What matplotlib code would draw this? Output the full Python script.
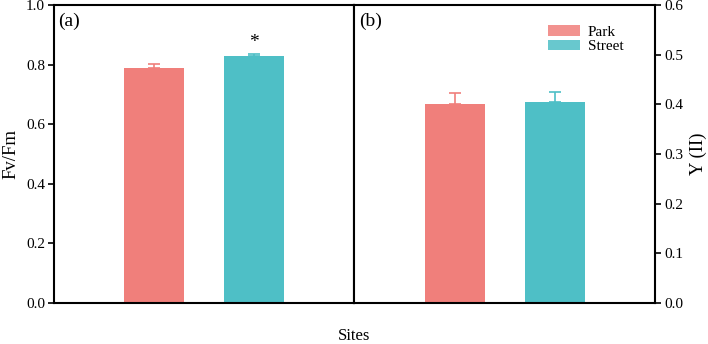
import matplotlib
matplotlib.use("Agg")
import matplotlib.pyplot as plt
from matplotlib.patches import Patch

plt.rcParams['font.family'] = ['Liberation Serif', 'DejaVu Serif']

sites = ["Park", "Street"]
fvfm = [0.789, 0.831]
fvfm_err = [0.012, 0.004]
yii = [0.400, 0.404]
yii_err = [0.023, 0.021]
colors = ["#F07F7B", "#4EBFC6"]

fig = plt.figure(figsize=(7.08, 3.44), dpi=100)
ax1 = fig.add_axes([0.0763, 0.119, 0.4244, 0.866])
ax2 = fig.add_axes([0.5007, 0.119, 0.4244, 0.866])

xs = [0, 1]
for ax, vals, errs in [(ax1, fvfm, fvfm_err), (ax2, yii, yii_err)]:
    for x, v, e, c in zip(xs, vals, errs, colors):
        ax.bar(x, v, width=0.6, color=c, zorder=2)
        ax.errorbar(x, v, yerr=[[0], [e]], fmt='none', ecolor=c,
                    elinewidth=1.2, capsize=4, capthick=1.2, zorder=3)
    ax.set_xlim(-1, 2)
    ax.set_xticks([])
    for s in ax.spines.values():
        s.set_linewidth(1.5)
    ax.tick_params(axis='y', direction='out', length=4.5, width=1.2,
                   pad=2, labelsize=11)

ax1.set_ylim(0, 1.0)
ax1.set_yticks([0.0, 0.2, 0.4, 0.6, 0.8, 1.0])
ax1.set_yticklabels(["0.0", "0.2", "0.4", "0.6", "0.8", "1.0"])
ax1.set_ylabel("Fv/Fm", fontsize=13.5, labelpad=5)
ax1.text(1, fvfm[1] + fvfm_err[1] + 0.012, "*", ha='center', va='bottom', fontsize=14)
ax1.text(0.015, 0.975, "(a)", transform=ax1.transAxes, ha='left', va='top', fontsize=14)

ax2.set_ylim(0, 0.6)
ax2.set_yticks([0.0, 0.1, 0.2, 0.3, 0.4, 0.5, 0.6])
ax2.set_yticklabels(["0.0", "0.1", "0.2", "0.3", "0.4", "0.5", "0.6"])
ax2.yaxis.tick_right()
ax2.yaxis.set_label_position("right")
ax2.set_ylabel("Y (II)", fontsize=13.5, labelpad=5)
ax2.text(0.015, 0.975, "(b)", transform=ax2.transAxes, ha='left', va='top', fontsize=14)

handles = [Patch(facecolor=c, alpha=0.85, label=s) for s, c in zip(sites, colors)]
ax2.legend(handles=handles, loc='upper right', bbox_to_anchor=(0.895, 0.932),
           frameon=False, fontsize=11, handlelength=2.1, handleheight=0.65,
           handletextpad=0.5, labelspacing=0.05, borderpad=0, borderaxespad=0)

fig.text(0.5, 0.0, "Sites", ha='center', va='bottom', fontsize=12)

fig.savefig("out.png", dpi=100)
